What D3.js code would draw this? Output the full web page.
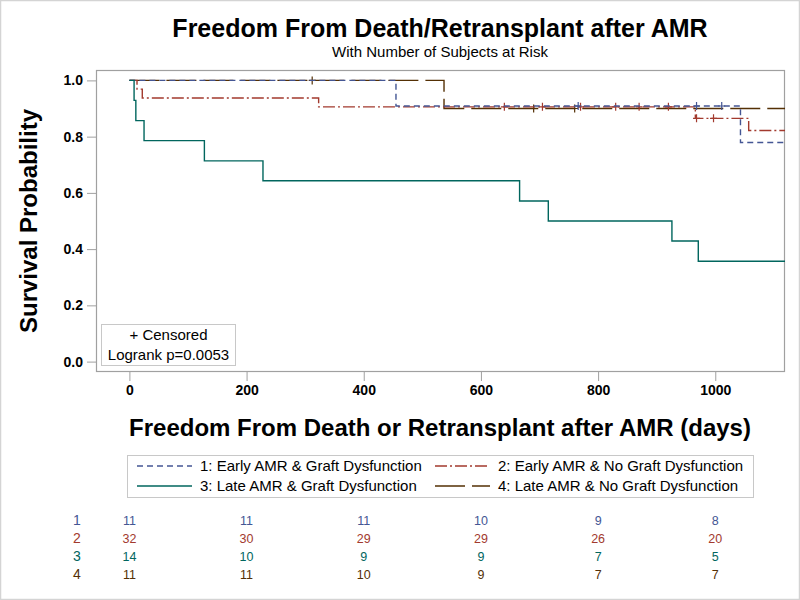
<!DOCTYPE html>
<html><head><meta charset="utf-8">
<script src="https://cdn.jsdelivr.net/npm/d3@7"></script>
<style>
body{margin:0;background:#fff}
svg{display:block}
text{font-family:"Liberation Sans",Arial,sans-serif;fill:#000}
</style>
</head><body>
<svg id="c" width="800" height="600"></svg>
<script>
// ---- data ----
const groupIds = ["1","2","3","4"];
const groupNames = ["1: Early AMR & Graft Dysfunction","2: Early AMR & No Graft Dysfunction","3: Late AMR & Graft Dysfunction","4: Late AMR & No Graft Dysfunction"];
const groupColors = ["#445694","#A23A2E","#01665E","#543005"];
const groupDashes = ["6,4","12,3,2,3",null,"30,7"];

const g1Times = [0,455,1043];
const g1Surv  = [1,0.909,0.779];
const g1Censor = [766,968,1011];

const g2Times = [0,13,22,323,966,1057];
const g2Surv  = [1,0.969,0.9375,0.906,0.865,0.822];
const g2Censor = [640,705,770,830,870,920,968,997];

const g3Times = [0,8,11,25,128,228,666,715,926,971];
const g3Surv  = [1,0.929,0.857,0.786,0.714,0.643,0.571,0.5,0.429,0.357];
const g3Censor = [];

const g4Times = [0,537];
const g4Surv  = [1,0.9];
const g4Censor = [312,690,760];

const xTicks = [0,200,400,600,800,1000];
const yTicks = [0,0.2,0.4,0.6,0.8,1.0];
const atRisk1 = [11,11,11,10,9,8];
const atRisk2 = [32,30,29,29,26,20];
const atRisk3 = [14,10,9,9,7,5];
const atRisk4 = [11,11,10,9,7,7];
const endTime = 1120;

const titleText = "Freedom From Death/Retransplant after AMR";
const subtitleText = "With Number of Subjects at Risk";
const xTitle = "Freedom From Death or Retransplant after AMR (days)";
const yTitle = "Survival Probability";
const insetLines = ["+ Censored","Logrank p=0.0053"];

// ---- build ----
const times = [g1Times,g2Times,g3Times,g4Times];
const survs = [g1Surv,g2Surv,g3Surv,g4Surv];
const censors = [g1Censor,g2Censor,g3Censor,g4Censor];
const risks = [atRisk1,atRisk2,atRisk3,atRisk4];

const svg = d3.select("#c");
const F = {l:96, r:785, t:70, b:372};
const x = d3.scaleLinear().domain([-57,1119]).range([F.l,F.r]);
const y = d3.scaleLinear().domain([-0.037,1.037]).range([F.b,F.t]);

// outer border
svg.append("rect").attr("x",0.5).attr("y",0.5).attr("width",799).attr("height",599)
  .attr("fill","#fff").attr("stroke","#d4d4d4").attr("stroke-width",1.5);

// titles
svg.append("text").attr("x",440).attr("y",37).attr("text-anchor","middle")
  .style("font-size","25px").style("font-weight","bold").text(titleText);
svg.append("text").attr("x",440).attr("y",57).attr("text-anchor","middle")
  .style("font-size","15px").text(subtitleText);

// clip
svg.append("clipPath").attr("id","pc").append("rect")
  .attr("x",F.l).attr("y",F.t).attr("width",F.r-F.l).attr("height",F.b-F.t);

// axes
const yAxis = d3.axisLeft(y).tickValues(yTicks).tickFormat(d3.format(".1f")).tickSize(9).tickPadding(4);
const ya = svg.append("g").attr("transform",`translate(${F.l},0)`).call(yAxis);
const xAxis = d3.axisBottom(x).tickValues(xTicks).tickFormat(d3.format("d")).tickSize(9).tickPadding(4);
const xa = svg.append("g").attr("transform",`translate(0,${F.b})`).call(xAxis);
[ya,xa].forEach(a=>{
  a.select(".domain").remove();
  a.selectAll(".tick line").attr("stroke","#a0a0a0");
  a.selectAll(".tick text").style("font-size","14px").style("font-weight","bold")
    .style("font-family","'Liberation Sans',Arial,sans-serif").attr("fill","#000");
});

// frame
svg.append("rect").attr("x",F.l+0.5).attr("y",F.t+0.5).attr("width",F.r-F.l-1).attr("height",F.b-F.t-1)
  .attr("fill","none").attr("stroke","#a0a0a0").attr("stroke-width",1.2);

// axis titles
svg.append("text").attr("x",440).attr("y",436).attr("text-anchor","middle")
  .style("font-size","24px").style("font-weight","bold").text(xTitle);
svg.append("text").attr("transform","translate(37,221) rotate(-90)").attr("text-anchor","middle")
  .style("font-size","24px").style("font-weight","bold").text(yTitle);

// curves
const plot = svg.append("g").attr("clip-path","url(#pc)");
const line = d3.line().x(d=>x(d[0])).y(d=>y(d[1])).curve(d3.curveStepAfter);
function survAt(ts, ss, t){ let s=ss[0]; for(let i=0;i<ts.length;i++){ if(ts[i]<=t) s=ss[i]; } return s; }
[3,1,0,2].forEach(i=>{
  const pts = times[i].map((t,k)=>[t,survs[i][k]]);
  pts.push([endTime, survs[i][survs[i].length-1]]);
  plot.append("path").datum(pts).attr("d",line).attr("fill","none")
    .attr("stroke",groupColors[i]).attr("stroke-width",1.4)
    .attr("stroke-dasharray",groupDashes[i]);
  censors[i].forEach(t=>{
    const cx = x(t), cy = y(survAt(times[i],survs[i],t));
    plot.append("path").attr("d",`M${cx-3.5},${cy}H${cx+3.5}M${cx},${cy-4}V${cy+4}`)
      .attr("stroke",groupColors[i]).attr("stroke-width",1.2).attr("fill","none");
  });
});

// inset box
svg.append("rect").attr("x",101.5).attr("y",324.5).attr("width",134).attr("height",41)
  .attr("fill","#fff").attr("stroke","#c8c8c8");
insetLines.forEach((s,k)=>{
  svg.append("text").attr("x",168.5).attr("y",340+k*20).attr("text-anchor","middle")
    .style("font-size","15px").text(s);
});

// legend
svg.append("rect").attr("x",127.5).attr("y",455.5).attr("width",626).attr("height",42)
  .attr("fill","#fff").attr("stroke","#c8c8c8");
const legPos = [[137,466],[435,466],[137,486],[435,486]];
groupNames.forEach((n,i)=>{
  const [lx,ly] = legPos[i];
  svg.append("line").attr("x1",lx).attr("x2",lx+55).attr("y1",ly).attr("y2",ly)
    .attr("stroke",groupColors[i]).attr("stroke-width",1.4).attr("stroke-dasharray",groupDashes[i]);
  svg.append("text").attr("x",lx+63).attr("y",ly+5).style("font-size","15px").text(n);
});

// at-risk table
const rowY = [525,543,561,579];
groupIds.forEach((id,i)=>{
  svg.append("text").attr("x",77).attr("y",rowY[i]).attr("text-anchor","middle")
    .style("font-size","14px").style("fill",groupColors[i]).text(id);
  xTicks.forEach((t,k)=>{
    svg.append("text").attr("x",x(t)).attr("y",rowY[i]).attr("text-anchor","middle")
      .style("font-size","12.5px").style("fill",groupColors[i]).text(risks[i][k]);
  });
});
</script>
</body></html>
